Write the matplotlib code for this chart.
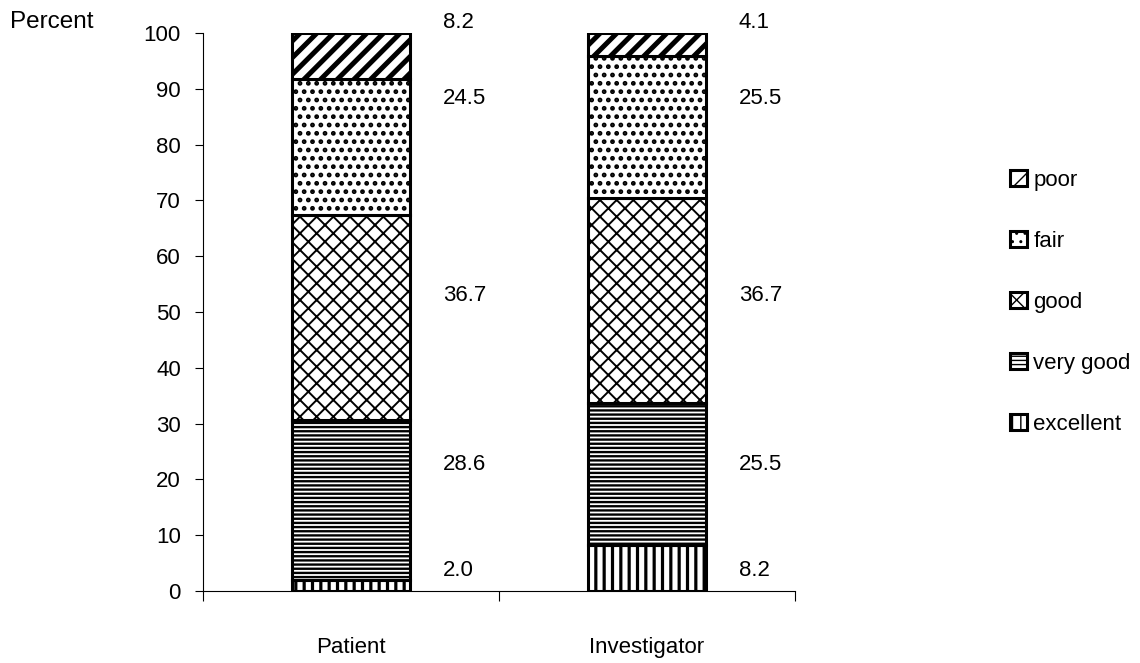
import matplotlib
matplotlib.use('Agg')
import matplotlib.pyplot as plt
import numpy as np

plt.rcParams['font.family'] = ['Liberation Sans', 'DejaVu Sans']

# data
groups = ['Patient', 'Investigator']
ratings = ['excellent', 'very good', 'good', 'fair', 'poor']
patient = [2.0, 28.6, 36.7, 24.5, 8.2]
investigator = [8.2, 25.5, 36.7, 25.5, 4.1]
yticks = list(range(0, 101, 10))

# style per rating (hatch, hatch linewidth)
hatches = {'excellent': ('||', 2.3), 'very good': ('----', 1.7), 'good': ('xx', 1.4),
           'fair': ('..', 2.2), 'poor': ('//', 3.6)}
# the original put the value labels at fixed heights, not at segment centres
label_y = [3.7, 22.6, 53.0, 88.3, 101.8]

fig = plt.figure(figsize=(11.4, 6.63), dpi=100)
ax = fig.add_axes([203 / 1140, 1 - 591 / 663, (795 - 203) / 1140, (591 - 33) / 663])

x = np.arange(len(groups))
values = np.array([patient, investigator])
bottom = np.zeros(len(groups))
handles = {}
for j, r in enumerate(ratings):
    h, lw = hatches[r]
    with plt.rc_context({'hatch.linewidth': lw, 'hatch.color': 'black'}):
        bars = ax.bar(x, values[:, j], width=0.4, bottom=bottom, color='white',
                      edgecolor='black', linewidth=2.2, hatch=h, zorder=2)
    handles[r] = bars
    bottom += values[:, j]

# value labels right of each bar
for i in range(len(groups)):
    for j in range(len(ratings)):
        ax.text(x[i] + 0.31, label_y[j], f'{values[i, j]:.1f}', ha='left', va='center',
                fontsize=16)

ax.set_xlim(-0.5, 1.5)
ax.set_ylim(0, 100)
ax.set_yticks(yticks)
ax.tick_params(axis='y', labelsize=16, length=6, width=0.8, pad=10)
ax.set_xticks(x)
ax.set_xticklabels(groups, fontsize=16)
ax.tick_params(axis='x', which='major', length=0, pad=33)
ax.set_xticks([-0.5, 0.5, 1.5], minor=True)
ax.tick_params(axis='x', which='minor', length=7, width=0.8, direction='out')
for s in ['top', 'right']:
    ax.spines[s].set_visible(False)
for s in ['left', 'bottom']:
    ax.spines[s].set_linewidth(0.8)

fig.text(10 / 1140, 1 - 22 / 663, 'Percent', fontsize=17.5, ha='left', va='center')

leg_order = ratings[::-1]
leg = fig.legend([handles[r] for r in leg_order], leg_order, loc='upper left',
                 bbox_to_anchor=(990 / 1140, 1 - 150 / 663), frameon=False, fontsize=16,
                 handlelength=0.75, handleheight=0.75, handletextpad=0.3, labelspacing=1.8)

fig.savefig('out.png', dpi=100)
